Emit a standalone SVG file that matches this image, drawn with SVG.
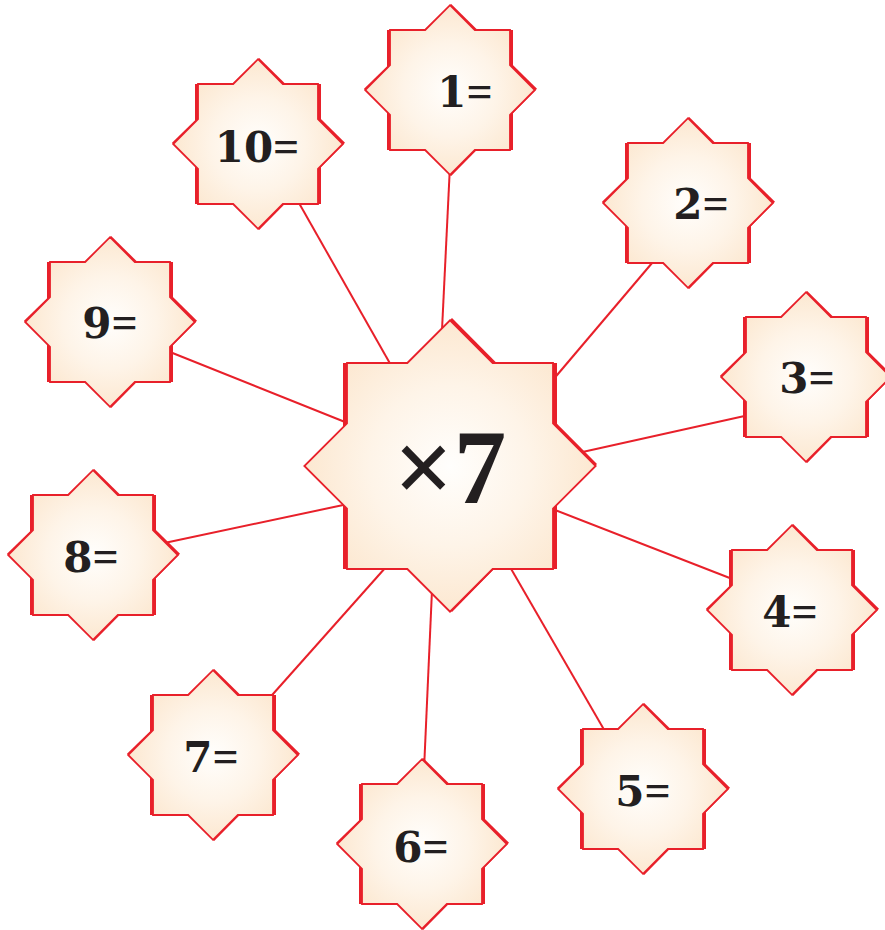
<svg xmlns="http://www.w3.org/2000/svg" width="885" height="930" viewBox="0 0 885 930">
<style>
.conn{stroke:#e8202a;stroke-width:2;fill:none}
.red{fill:#e8202a}
.face{fill:url(#cream);stroke:#e8202a;stroke-width:1.8;stroke-linejoin:miter}
.lbl{font-family:"DejaVu Serif","Liberation Serif",serif;font-weight:bold;font-size:42px;fill:#231f20;text-anchor:middle}
.eq{font-family:"Liberation Serif","DejaVu Serif",serif;font-size:46px}
.big{font-family:"Liberation Serif","DejaVu Serif",serif;font-size:105px}
</style>
<defs>
<radialGradient id="cream" cx="0.5" cy="0.5" r="0.5">
<stop offset="0" stop-color="#fffefc"/>
<stop offset="0.55" stop-color="#fef4e8"/>
<stop offset="1" stop-color="#fce8d1"/>
</radialGradient>
<g id="star">
<rect class="red" x="-63" y="-60" width="126" height="120"/>
<polygon class="red" points="1.2,-86 87,-1.2 1.2,86 -86,-1.2"/>
<polygon class="face" points="-60,-60 -24.85,-60 0,-84.85 24.85,-60 60,-60 60,-24.85 84.85,0 60,24.85 60,60 24.85,60 0,84.85 -24.85,60 -60,60 -60,24.85 -84.85,0 -60,-24.85"/>
</g>
</defs>
<g id="connectors">
<line class="conn" x1="442" y1="330" x2="450" y2="165"/>
<line class="conn" x1="392" y1="367" x2="295" y2="196"/>
<line class="conn" x1="552" y1="381" x2="658" y2="256"/>
<line class="conn" x1="350" y1="424" x2="160" y2="348"/>
<line class="conn" x1="578" y1="453" x2="758" y2="413"/>
<line class="conn" x1="348" y1="504" x2="155" y2="545"/>
<line class="conn" x1="550" y1="508" x2="740" y2="582"/>
<line class="conn" x1="386" y1="567" x2="265" y2="703"/>
<line class="conn" x1="432" y1="590" x2="424" y2="770"/>
<line class="conn" x1="510" y1="567" x2="610" y2="740"/>
</g>
<g id="node-center">
<rect class="red" x="343" y="363" width="214" height="206"/>
<polygon class="red" points="452,318 597,464 452,612 306,464"/>
<polygon class="face" points="347,363 407.34,363 450,320.34 492.66,363 553,363 553,423.34 595.66,466 553,508.66 553,569 492.66,569 450,611.66 407.34,569 347,569 347,508.66 304.34,466 347,423.34"/>
<text class="lbl big" x="450" y="503">×7</text>
</g>
<g id="node-1"><use href="#star" transform="translate(450,90)"/><text class="lbl" x="465" y="107">1<tspan class="eq">=</tspan></text></g>
<g id="node-2"><use href="#star" transform="translate(688,203)"/><text class="lbl" x="701" y="219">2<tspan class="eq">=</tspan></text></g>
<g id="node-3"><use href="#star" transform="translate(806,377)"/><text class="lbl" x="807" y="393">3<tspan class="eq">=</tspan></text></g>
<g id="node-4"><use href="#star" transform="translate(792,610)"/><text class="lbl" x="790" y="627">4<tspan class="eq">=</tspan></text></g>
<g id="node-5"><use href="#star" transform="translate(643,789)"/><text class="lbl" x="643" y="806">5<tspan class="eq">=</tspan></text></g>
<g id="node-6"><use href="#star" transform="translate(422,844)"/><text class="lbl" x="421" y="862">6<tspan class="eq">=</tspan></text></g>
<g id="node-7"><use href="#star" transform="translate(213,755)"/><text class="lbl" x="211" y="772">7<tspan class="eq">=</tspan></text></g>
<g id="node-8"><use href="#star" transform="translate(93,555)"/><text class="lbl" x="91" y="572">8<tspan class="eq">=</tspan></text></g>
<g id="node-9"><use href="#star" transform="translate(110,322)"/><text class="lbl" x="110" y="338">9<tspan class="eq">=</tspan></text></g>
<g id="node-10"><use href="#star" transform="translate(258,144)"/><text class="lbl" x="257" y="162">10<tspan class="eq">=</tspan></text></g>
</svg>
